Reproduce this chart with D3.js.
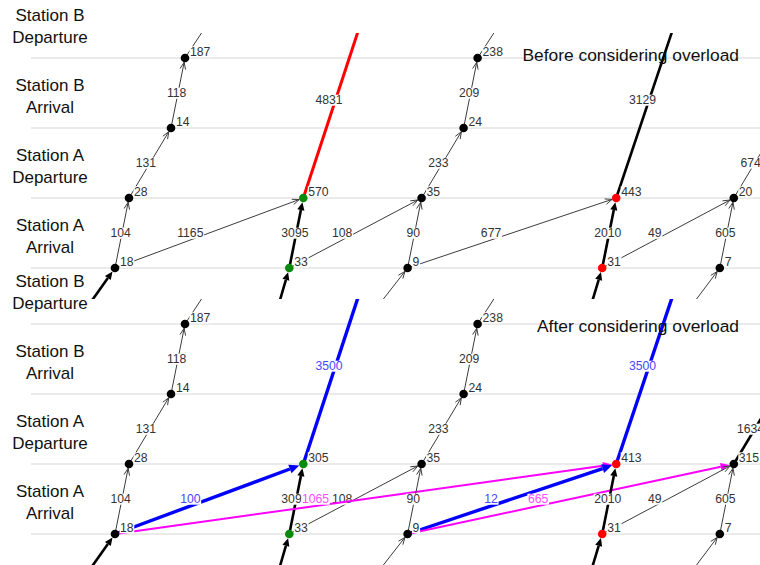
<!DOCTYPE html>
<html><head><meta charset="utf-8">
<script src="https://cdn.jsdelivr.net/npm/d3@7"></script>
<style>
body{margin:0;background:#fff}
svg{display:block}
text{font-family:"Liberation Sans",Arial,Helvetica,sans-serif}
</style>
</head><body>
<svg id="c" width="760" height="565"></svg>
<script>
// ---------------- data ----------------
const stationNames = ["Station A Arrival","Station A Departure","Station B Arrival","Station B Departure"];
const trains = ["T1","T2","T3","T4","T5"];
// event times (minutes)
const arrA = [0, 24.9, 41.8, 69.6, 86.4];
const depA = [2, 26.9, 43.8, 71.6, 88.4];
const arrB = [8, null, 49.8, null, 94.4];
const depB = [10, null, 51.8, null, null];
const prevDepB = [-7.1, 22.0, 34.0, 66.6, 78.9];   // previous cycle departures (below view)
const nextArrA = [16.6, null, 58.3, null, null];    // next cycle arrivals (above view)
const expressArr = [null, 36.1, null, 81.0, null];  // far targets of through services
const expressRow = 3.8;
const nodeStatus = ["none","ok","none","warn","none"];
const panels = ["Before considering overload","After considering overload"];

// node values per panel
const beforeArrA = [18, 33, 9, 31, 7];
const beforeDepA = [28, 570, 35, 443, 20];
const beforeArrB = [14, null, 24, null, null];
const beforeDepB = [187, null, 238, null, null];
const afterArrA  = [18, 33, 9, 31, 7];
const afterDepA  = [28, 305, 35, 413, 315];
const afterArrB  = [14, null, 24, null, null];
const afterDepB  = [187, null, 238, null, null];

// edges: [fromTrain, fromEvent, toTrain, toEvent, value, kind]
const edgesBefore = [
  ["T1","prev","T1","arrA",null,"heavy"],
  ["T2","prev","T2","arrA",null,"heavy"],
  ["T3","prev","T3","arrA",null,"light"],
  ["T4","prev","T4","arrA",null,"heavy"],
  ["T5","prev","T5","arrA",null,"light"],
  ["T1","arrA","T1","depA",104,"light"],
  ["T1","depA","T1","arrB",131,"light"],
  ["T1","arrB","T1","depB",118,"light"],
  ["T1","depB","T1","next",null,"light"],
  ["T2","arrA","T2","depA",3095,"heavy"],
  ["T1","arrA","T2","depA",1165,"light"],
  ["T2","depA","T2","far",4831,"overload"],
  ["T2","arrA","T3","depA",108,"light"],
  ["T3","arrA","T3","depA",90,"light"],
  ["T3","depA","T3","arrB",233,"light"],
  ["T3","arrB","T3","depB",209,"light"],
  ["T3","depB","T3","next",null,"light"],
  ["T3","arrA","T4","depA",677,"light"],
  ["T4","arrA","T4","depA",2010,"heavy"],
  ["T4","depA","T4","far",3129,"heavy"],
  ["T4","arrA","T5","depA",49,"light"],
  ["T5","arrA","T5","depA",605,"light"],
  ["T5","depA","T5","arrB",674,"light"]
];
const edgesAfter = [
  ["T1","prev","T1","arrA",null,"heavy"],
  ["T2","prev","T2","arrA",null,"heavy"],
  ["T3","prev","T3","arrA",null,"light"],
  ["T4","prev","T4","arrA",null,"heavy"],
  ["T5","prev","T5","arrA",null,"light"],
  ["T1","arrA","T1","depA",104,"light"],
  ["T1","depA","T1","arrB",131,"light"],
  ["T1","arrB","T1","depB",118,"light"],
  ["T1","depB","T1","next",null,"light"],
  ["T2","arrA","T2","depA",3095,"heavy"],
  ["T2","arrA","T3","depA",108,"light"],
  ["T1","arrA","T2","depA",100,"assigned"],
  ["T1","arrA","T4","depA",1065,"diverted"],
  ["T3","arrA","T3","depA",90,"light"],
  ["T3","depA","T3","arrB",233,"light"],
  ["T3","arrB","T3","depB",209,"light"],
  ["T3","depB","T3","next",null,"light"],
  ["T3","arrA","T4","depA",12,"assigned"],
  ["T3","arrA","T5","depA",665,"diverted"],
  ["T4","arrA","T4","depA",2010,"heavy"],
  ["T2","depA","T2","far",3500,"assigned"],
  ["T4","depA","T4","far",3500,"assigned"],
  ["T4","arrA","T5","depA",49,"light"],
  ["T5","arrA","T5","depA",605,"light"],
  ["T5","depA","T5","arrB",1634,"heavy"]
];

// ---------------- drawing ----------------
const W = 760, H = 565;
const svg = d3.select("#c");
const x = d3.scaleLinear().domain([0, 90]).range([115, 745]);
const y = d3.scaleLinear().domain([0, 3]).range([268, 58]);
const panelShift = d3.scaleOrdinal().domain(panels).range([0, 266]);
const titleY = d3.scaleOrdinal().domain(panels).range([60.5, 66]);
const statusColor = d3.scaleOrdinal().domain(["none","ok","warn"]).range(["#000","#0a8a0a","#ff0000"]);
const styles = {
  light:    {stroke:"#3c3c3c", w:1,   head:"open",   text:"#333", hl:7,  hw:2.8},
  heavy:    {stroke:"#000",    w:2.6, head:"filled", text:"#333", hl:8,  hw:3.6},
  overload: {stroke:"#ff0000", w:3,   head:"filled", text:"#333", hl:8,  hw:3.8},
  assigned: {stroke:"#0000ff", w:3.4, head:"filled", text:"#4747ff", hl:10, hw:4.6},
  diverted: {stroke:"#ff00ff", w:2,   head:"filled", text:"#ff4cff", hl:9,  hw:4}
};
const R = 4.3;
const nodeSets = [
  {arrA: beforeArrA, depA: beforeDepA, arrB: beforeArrB, depB: beforeDepB},
  {arrA: afterArrA,  depA: afterDepA,  arrB: afterArrB,  depB: afterDepB}
];
const edgeSets = [edgesBefore, edgesAfter];
const eventRow = {arrA:0, depA:1, arrB:2, depB:3, prev:-1, next:4};
const eventTime = {arrA, depA, arrB, depB, prev: prevDepB, next: nextArrA, far: expressArr};

function pos(ti, ev) {
  const row = ev === "far" ? expressRow : eventRow[ev];
  return [x(eventTime[ev][ti]), y(row)];
}

function addLabel(sel, lx, ly, txt, color, anchor) {
  const g = sel.append("g");
  const t = g.append("text").attr("x", lx).attr("y", ly)
    .attr("text-anchor", anchor).attr("font-size", 12.2).attr("fill", color).text(txt);
  const bb = t.node().getBBox();
  g.insert("rect", "text").attr("x", bb.x - 0.5).attr("y", bb.y + 1.5)
    .attr("width", bb.width + 1).attr("height", bb.height - 3).attr("fill", "#fff");
}

panels.forEach((title, pi) => {
  const g = svg.append("g").attr("transform", `translate(0,${panelShift(title)})`);
  const nodes = nodeSets[pi];

  // grid lines
  g.selectAll("line.grid").data(d3.range(stationNames.length)).join("line")
    .attr("class","grid")
    .attr("x1", 31).attr("x2", W)
    .attr("y1", r => y(r)).attr("y2", r => y(r))
    .attr("stroke", "#e3e3e3").attr("stroke-width", 1.4);

  // row labels
  const rl = g.selectAll("text.row").data(stationNames).join("text")
    .attr("class","row").attr("text-anchor","middle").attr("font-size",17).attr("fill","#111");
  rl.append("tspan").attr("x",50).attr("y",(d,i)=>y(i)-37.5).text(d=>d.split(" ").slice(0,2).join(" "));
  rl.append("tspan").attr("x",50).attr("y",(d,i)=>y(i)-15.5).text(d=>d.split(" ").slice(2).join(" "));

  const clipId = "clip" + pi;
  g.append("clipPath").attr("id", clipId).append("rect")
    .attr("x", 0).attr("y", 33).attr("width", W).attr("height", 266);
  const pg = g.append("g").attr("clip-path", `url(#${clipId})`);

  // edges (line + arrow + label, in order)
  edgeSets[pi].forEach(e => {
    const [fa, fe, ta, te, val, kind] = e;
    const fi = trains.indexOf(fa), tj = trains.indexOf(ta);
    const st = styles[kind];
    const p0 = pos(fi, fe), p1 = pos(tj, te);
    const dx = p1[0]-p0[0], dy = p1[1]-p0[1], L = Math.hypot(dx, dy);
    const ux = dx/L, uy = dy/L, nx = -uy, ny = ux;
    const hasNode = nodes[te] && nodes[te][tj] != null;
    const tip = hasNode ? [p1[0]-ux*R, p1[1]-uy*R] : p1;
    const base = [tip[0]-ux*st.hl, tip[1]-uy*st.hl];
    const end = st.head === "open" ? tip : base;
    pg.append("line").attr("x1", p0[0]).attr("y1", p0[1]).attr("x2", end[0]).attr("y2", end[1])
      .attr("stroke", st.stroke).attr("stroke-width", st.w);
    if (st.head === "open") {
      pg.append("path")
        .attr("d", `M${base[0]+nx*st.hw},${base[1]+ny*st.hw}L${tip[0]},${tip[1]}L${base[0]-nx*st.hw},${base[1]-ny*st.hw}`)
        .attr("fill","none").attr("stroke", st.stroke).attr("stroke-width", 1);
    } else {
      pg.append("path")
        .attr("d", `M${tip[0]},${tip[1]}L${base[0]+nx*st.hw},${base[1]+ny*st.hw}L${base[0]-nx*st.hw},${base[1]-ny*st.hw}Z`)
        .attr("fill", st.stroke);
    }
    if (val != null) {
      const lx = p0[0] + 0.4*dx, ly = (p0[1]+p1[1])/2;
      addLabel(pg, lx, ly + 4.2, val, st.text, "middle");
    }
  });

  // nodes
  const nodeList = [];
  ["arrA","depA","arrB","depB"].forEach(ev => {
    trains.forEach((t, ti) => {
      const v = nodes[ev][ti];
      if (v != null) nodeList.push({ev, ti, v, p: pos(ti, ev)});
    });
  });
  nodeList.forEach(n => addLabel(pg, n.p[0] + 5, n.p[1] - 2.2, n.v, "#333", "start"));
  pg.selectAll("circle.node").data(nodeList).join("circle")
    .attr("class","node")
    .attr("cx", d => d.p[0]).attr("cy", d => d.p[1]).attr("r", R)
    .attr("fill", d => (d.ev === "arrA" || d.ev === "depA") ? statusColor(nodeStatus[d.ti]) : "#000");

  // title
  g.append("text").attr("x", 739).attr("y", titleY(title)).attr("text-anchor","end")
    .attr("font-size", 17.4).attr("fill","#111").text(title);
});
</script>
</body></html>
